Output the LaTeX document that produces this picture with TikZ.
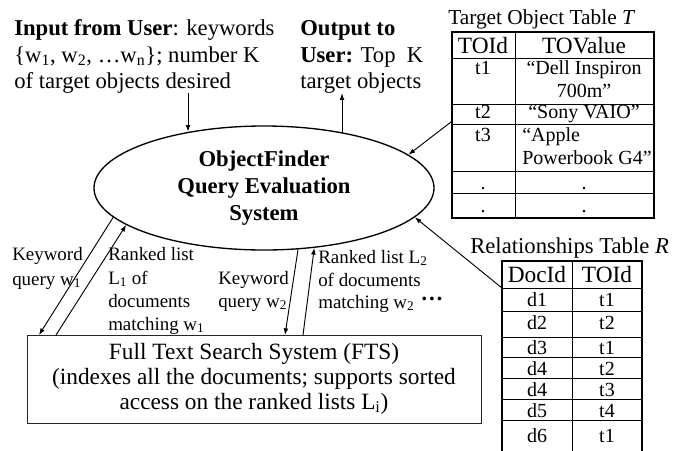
\documentclass[tikz,border=0pt]{standalone}
\usepackage{fontspec}
\setmainfont{Liberation Serif}
\usetikzlibrary{arrows.meta,calc,shapes.geometric}
\begin{document}
\begin{tikzpicture}[x=0.75pt,y=-0.75pt,
  txt/.style={inner sep=0pt, anchor=base west},
  ctr/.style={inner sep=0pt, anchor=base},
  big/.style={font=\fontsize{17}{20}\selectfont},
  lab/.style={font=\fontsize{14.2}{17}\selectfont},
  ftsf/.style={font=\fontsize{17.5}{20}\selectfont},
  hdr/.style={font=\fontsize{17.5}{20}\selectfont},
  cell/.style={font=\fontsize{15}{18}\selectfont},
  arr/.style={-{Latex[length=5pt,width=3.6pt]}, line width=0.7pt},
  thinline/.style={line width=0.6pt},
  thickline/.style={line width=1.6pt}
]
\useasboundingbox (0,0) rectangle (684,450);

% input / output texts
\node[txt,big] (in1) at (14,35) {\textbf{Input from User}: keywords};
\node[txt,big] (in2) at (14,62) {\{w\textsubscript{1}, w\textsubscript{2}, …w\textsubscript{n}\}; number K};
\node[txt,big] (in3) at (14,88) {of target objects desired};
\node[txt,big] (out1) at (300,35) {\textbf{Output to}};
\node[txt,big] (out2) at (300,62) {\textbf{User:} Top\ \ K};
\node[txt,big] (out3) at (300,88) {target objects};

% ellipse
\node[draw, ellipse, line width=1pt, minimum width=255pt, minimum height=93pt,
      align=center, font={\fontsize{17}{20.25}\selectfont\bfseries}] (ell) at (264,188)
  {ObjectFinder\\Query Evaluation\\System};

% FTS box
\node[draw=black!85, line width=0.9pt, minimum width=340.5pt, minimum height=66pt,
      anchor=north west, inner sep=0pt] (fts) at (27,335) {};
\node[ctr,ftsf] (fts1) at (254,359) {Full Text Search System (FTS)};
\node[ctr,ftsf] (fts2) at (254,384) {(indexes all the documents; supports sorted};
\node[ctr,ftsf] (fts3) at (254,409) {access on the ranked lists L\textsubscript{i})};

% arrows input/output
\coordinate (inTail) at ($(in3.south west)+(174,0)$);
\draw[arr] (inTail) -- (inTail |- ell.143.9);
\coordinate (outHead) at ($(out3.south west)+(42,0)$);
\draw[arr] (outHead |- ell.35.2) -- (outHead);

% FTS arrows
\draw[arr] (ell.-169.2) -- ($(fts.north west)+(12,0)$);
\draw[arr] ($(fts.north west)+(29,0)$) -- (ell.195.2);
\draw[arr] (ell.-61.5) -- ($(fts.north west)+(258,0)$);
\draw[arr] ($(fts.north west)+(276,0)$) -- (ell.-50.5);

% labels
\node[txt,lab] (k1a) at (12,260) {Keyword};
\node[txt,lab] (k1b) at (12,285) {query w\textsubscript{1}};
\node[txt,lab] (r1a) at (108,260) {Ranked list};
\node[txt,lab] (r1b) at (108,284) {L\textsubscript{1} of};
\node[txt,lab] (r1c) at (108,307) {documents};
\node[txt,lab] (r1d) at (108,330) {matching w\textsubscript{1}};
\node[txt,lab] (k2a) at (218,284) {Keyword};
\node[txt,lab] (k2b) at (218,307) {query w\textsubscript{2}};
\node[txt,lab] (r2a) at (318,263) {Ranked list L\textsubscript{2}};
\node[txt,lab] (r2b) at (318,286) {of documents};
\node[txt,lab] (r2c) at (318,308) {matching w\textsubscript{2}};
\node[ctr,font={\fontsize{17}{20}\selectfont\bfseries}] (dots) at (432,300) {…};

% Target Object Table T
\node[txt,font=\fontsize{16}{19}\selectfont] (titT) at (448,24) {Target Object Table \textit{T}};
\node[draw, thickline, minimum width=151.5pt, minimum height=139.5pt,
      anchor=north west, inner sep=0pt] (tabT) at (451,31) {};
\draw[thinline] (515,31) -- (515,217);
\foreach \yy in {58,104,124,171,193} \draw[thinline] (451,\yy) -- (653,\yy);
\node[ctr,hdr] (tTh1) at (483,53) {TOId};
\node[ctr,hdr] (tTh2) at (584,53) {TOValue};
\node[ctr,cell] (tT11) at (483,74) {t1};
\node[ctr,cell] (tT12) at (584,74) {“Dell Inspiron};
\node[ctr,cell] (tT13) at (584,97) {700m”};
\node[ctr,cell] (tT21) at (483,118) {t2};
\node[ctr,cell] (tT22) at (584,118) {“Sony VAIO”};
\node[ctr,cell] (tT31) at (483,141) {t3};
\node[txt,cell] (tT32) at (522,141) {“Apple};
\node[txt,cell] (tT33) at (522,164) {Powerbook G4”};
\node[ctr,cell] (tT41) at (483,189) {.};
\node[ctr,cell] (tT42) at (584,189) {.};
\node[ctr,cell] (tT51) at (483,212) {.};
\node[ctr,cell] (tT52) at (584,212) {.};
\draw[arr] ($(tabT.north west)+(0,91)$) -- (ell.13.8);

% Relationships Table R
\node[txt,font=\fontsize{17}{20}\selectfont] (titR) at (470,253) {Relationships Table \textit{R}};
\coordinate (tabR) at (502,261);
\draw[thickline] (502,452) -- (tabR) -- (642,261) -- (642,452);
\draw[thinline] (572,261) -- (572,452);
\foreach \yy in {288,311,337,357,378,399,420} \draw[thinline] (502,\yy) -- (642,\yy);
\node[ctr,hdr] (tRh1) at (537,282) {DocId};
\node[ctr,hdr] (tRh2) at (607,282) {TOId};
\foreach \ii/\yy/\da/\tb in {1/306/d1/t1,2/329/d2/t2,3/354/d3/t1,4/375/d4/t2,5/396/d4/t3,6/417/d5/t4,7/442/d6/t1}{
  \node[ctr,cell] (tR\ii a) at (537,\yy) {\da};
  \node[ctr,cell] (tR\ii b) at (607,\yy) {\tb};
}
\draw[arr] ($(tabR)+(0,27)$) -- (ell.-11.2);
\end{tikzpicture}
\end{document}
